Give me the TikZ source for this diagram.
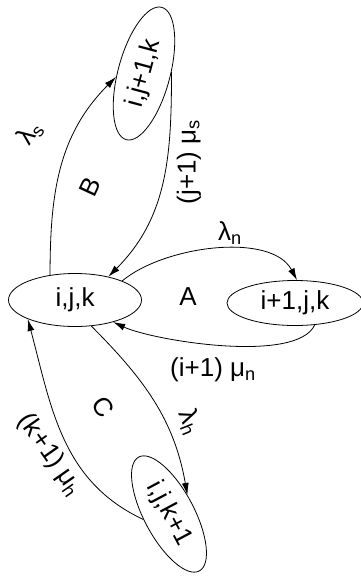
\documentclass[tikz,border=0pt]{standalone}
\usepackage{fontspec}
\setmainfont{Liberation Sans}
\usetikzlibrary{shapes.geometric,arrows.meta}
\tikzset{
  statenode/.style={
    shape = ellipse,
    draw,
    inner sep = 0pt,
    font=\fontsize{26}{30}\selectfont
  },
  rate/.style={
    inner sep = 0pt,
    font=\fontsize{26}{30}\selectfont
  },
  trans/.style={
    line width=0.8pt,
    -{Latex[length=12pt,width=7pt]}
  },
  every picture/.style = {
    x=1pt,
    y=1pt,
    line width=0.8pt
  }
}
\begin{document}
\begin{tikzpicture}
            \useasboundingbox (0,0) rectangle (360,-576);
            \node[statenode,minimum width=133pt,minimum height=53pt] (ijk) at (75,-300) {i,j,k};
            \node[statenode,minimum width=136pt,minimum height=45pt] (inext) at (295,-303) {i+1,j,k};
            \node[statenode,minimum width=137pt,minimum height=52pt,rotate=75] (jnext) at (144,-73.5) {i,j+1,k};
            \node[statenode,minimum width=129pt,minimum height=50pt,rotate=-62] (knext) at (169,-514) {i,j,k+1};
            % A
            \draw[trans] (ijk.22) to[out=40,in=118,looseness=0.8] (inext.85);
            \draw[trans] (inext.-48) to[out=-115,in=-25,looseness=0.55] (ijk.-30);
            % B
            \draw[trans] (ijk.135) to[out=90,in=225] (jnext.112);
            \draw[trans] (jnext.-72) to[out=-90,in=45] (ijk.35);
            % C
            \draw[trans] (ijk.-58) to[out=-45,in=100] (knext.108);
            \draw[trans] (knext.-106) to[out=155,in=-75] (ijk.202);
            \node[rate] (lamn) at (230,-233) {λ\textsubscript{n}};
            \node[rate] (muna) at (213,-370) {(i+1) μ\textsubscript{n}};
            \node[rate] (regA) at (188,-297) {A};
            \node[rate,rotate=55] (lams) at (30,-133) {λ\textsubscript{s}};
            \node[rate,rotate=90] (mus) at (189,-162) {(j+1) μ\textsubscript{s}};
            \node[rate,rotate=65] (regB) at (90,-187) {B};
            \node[rate,rotate=-68] (lamh) at (190,-422) {λ\textsubscript{h}};
            \node[rate,rotate=-55] (muh) at (50,-455) {(k+1) μ\textsubscript{h}};
            \node[rate,rotate=-55] (regC) at (103,-407) {C};
\end{tikzpicture}
\end{document}
